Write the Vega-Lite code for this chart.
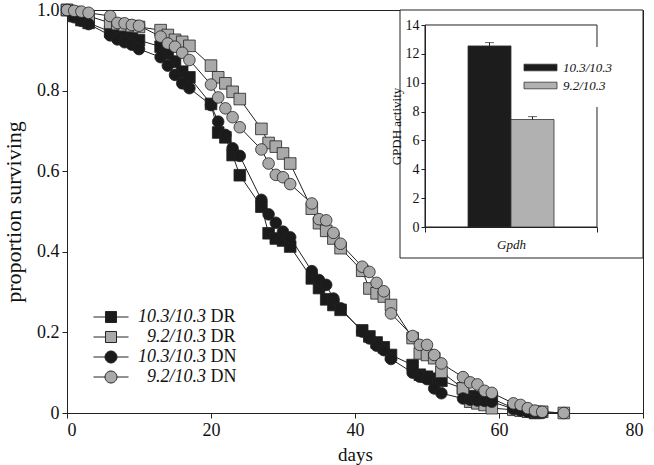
{
  "$schema": "https://vega.github.io/schema/vega-lite/v6.json",
  "width": 576,
  "height": 403,
  "autosize": {"type": "none"},
  "padding": {"left": 67, "top": 10, "right": 11, "bottom": 52},
  "background": "white",
  "config": {
    "font": "Liberation Serif",
    "view": {"stroke": "#222", "strokeWidth": 1},
    "axis": {"grid": false, "domainColor": "#222", "tickColor": "#222", "labelColor": "#111", "titleColor": "#111", "labelFont": "Liberation Serif", "titleFont": "Liberation Serif", "titleFontWeight": "normal"},
    "legend": {"labelFont": "Liberation Serif", "labelColor": "#111"}
  },
  "datasets": {
    "surv": [
      {"series":"10.3/10.3 DR","day":0,"surv":1},{"series":"10.3/10.3 DR","day":1,"surv":0.985},{"series":"10.3/10.3 DR","day":2,"surv":0.975},{"series":"10.3/10.3 DR","day":3,"surv":0.968},
      {"series":"10.3/10.3 DR","day":6,"surv":0.946},{"series":"10.3/10.3 DR","day":7,"surv":0.94},{"series":"10.3/10.3 DR","day":8,"surv":0.935},{"series":"10.3/10.3 DR","day":9,"surv":0.93},{"series":"10.3/10.3 DR","day":10,"surv":0.925},
      {"series":"10.3/10.3 DR","day":13,"surv":0.909},{"series":"10.3/10.3 DR","day":14,"surv":0.892},{"series":"10.3/10.3 DR","day":15,"surv":0.872},{"series":"10.3/10.3 DR","day":16,"surv":0.847},{"series":"10.3/10.3 DR","day":17,"surv":0.833},
      {"series":"10.3/10.3 DR","day":20,"surv":0.767},{"series":"10.3/10.3 DR","day":21,"surv":0.696},{"series":"10.3/10.3 DR","day":22,"surv":0.684},{"series":"10.3/10.3 DR","day":23,"surv":0.64},{"series":"10.3/10.3 DR","day":24,"surv":0.59},
      {"series":"10.3/10.3 DR","day":27,"surv":0.512},{"series":"10.3/10.3 DR","day":28,"surv":0.446},{"series":"10.3/10.3 DR","day":29,"surv":0.433},{"series":"10.3/10.3 DR","day":30,"surv":0.428},{"series":"10.3/10.3 DR","day":31,"surv":0.413},
      {"series":"10.3/10.3 DR","day":34,"surv":0.334},{"series":"10.3/10.3 DR","day":35,"surv":0.31},{"series":"10.3/10.3 DR","day":36,"surv":0.282},{"series":"10.3/10.3 DR","day":37,"surv":0.268},{"series":"10.3/10.3 DR","day":38,"surv":0.256},
      {"series":"10.3/10.3 DR","day":41,"surv":0.205},{"series":"10.3/10.3 DR","day":42,"surv":0.19},{"series":"10.3/10.3 DR","day":43,"surv":0.175},{"series":"10.3/10.3 DR","day":44,"surv":0.163},{"series":"10.3/10.3 DR","day":45,"surv":0.144},
      {"series":"10.3/10.3 DR","day":48,"surv":0.119},{"series":"10.3/10.3 DR","day":49,"surv":0.095},{"series":"10.3/10.3 DR","day":50,"surv":0.09},{"series":"10.3/10.3 DR","day":51,"surv":0.085},{"series":"10.3/10.3 DR","day":52,"surv":0.08},
      {"series":"10.3/10.3 DR","day":55,"surv":0.061},{"series":"10.3/10.3 DR","day":56,"surv":0.042},{"series":"10.3/10.3 DR","day":57,"surv":0.04},{"series":"10.3/10.3 DR","day":58,"surv":0.038},{"series":"10.3/10.3 DR","day":59,"surv":0.036},
      {"series":"10.3/10.3 DR","day":62,"surv":0.012},{"series":"10.3/10.3 DR","day":63,"surv":0.008},{"series":"10.3/10.3 DR","day":64,"surv":0.004},{"series":"10.3/10.3 DR","day":65,"surv":0},

      {"series":"9.2/10.3 DR","day":0,"surv":1},{"series":"9.2/10.3 DR","day":1,"surv":0.995},{"series":"9.2/10.3 DR","day":2,"surv":0.99},{"series":"9.2/10.3 DR","day":3,"surv":0.985},
      {"series":"9.2/10.3 DR","day":6,"surv":0.968},{"series":"9.2/10.3 DR","day":7,"surv":0.965},{"series":"9.2/10.3 DR","day":8,"surv":0.962},{"series":"9.2/10.3 DR","day":9,"surv":0.96},{"series":"9.2/10.3 DR","day":10,"surv":0.958},
      {"series":"9.2/10.3 DR","day":13,"surv":0.95},{"series":"9.2/10.3 DR","day":14,"surv":0.938},{"series":"9.2/10.3 DR","day":15,"surv":0.926},{"series":"9.2/10.3 DR","day":16,"surv":0.921},{"series":"9.2/10.3 DR","day":17,"surv":0.911},
      {"series":"9.2/10.3 DR","day":20,"surv":0.862},{"series":"9.2/10.3 DR","day":21,"surv":0.833},{"series":"9.2/10.3 DR","day":22,"surv":0.818},{"series":"9.2/10.3 DR","day":23,"surv":0.797},{"series":"9.2/10.3 DR","day":24,"surv":0.779},
      {"series":"9.2/10.3 DR","day":27,"surv":0.705},{"series":"9.2/10.3 DR","day":28,"surv":0.67},{"series":"9.2/10.3 DR","day":29,"surv":0.661},{"series":"9.2/10.3 DR","day":30,"surv":0.644},{"series":"9.2/10.3 DR","day":31,"surv":0.619},
      {"series":"9.2/10.3 DR","day":34,"surv":0.507},{"series":"9.2/10.3 DR","day":35,"surv":0.471},{"series":"9.2/10.3 DR","day":36,"surv":0.452},{"series":"9.2/10.3 DR","day":37,"surv":0.433},{"series":"9.2/10.3 DR","day":38,"surv":0.409},
      {"series":"9.2/10.3 DR","day":41,"surv":0.353},{"series":"9.2/10.3 DR","day":42,"surv":0.309},{"series":"9.2/10.3 DR","day":43,"surv":0.297},{"series":"9.2/10.3 DR","day":44,"surv":0.289},{"series":"9.2/10.3 DR","day":45,"surv":0.268},
      {"series":"9.2/10.3 DR","day":48,"surv":0.186},{"series":"9.2/10.3 DR","day":49,"surv":0.148},{"series":"9.2/10.3 DR","day":50,"surv":0.144},{"series":"9.2/10.3 DR","day":51,"surv":0.136},{"series":"9.2/10.3 DR","day":52,"surv":0.102},
      {"series":"9.2/10.3 DR","day":55,"surv":0.061},{"series":"9.2/10.3 DR","day":56,"surv":0.028},{"series":"9.2/10.3 DR","day":57,"surv":0.024},{"series":"9.2/10.3 DR","day":58,"surv":0.02},{"series":"9.2/10.3 DR","day":59,"surv":0.012},
      {"series":"9.2/10.3 DR","day":62,"surv":0.008},{"series":"9.2/10.3 DR","day":63,"surv":0.006},{"series":"9.2/10.3 DR","day":64,"surv":0.004},{"series":"9.2/10.3 DR","day":65,"surv":0.003},{"series":"9.2/10.3 DR","day":66,"surv":0.003},{"series":"9.2/10.3 DR","day":69,"surv":0},

      {"series":"10.3/10.3 DN","day":0,"surv":1},{"series":"10.3/10.3 DN","day":1,"surv":0.982},{"series":"10.3/10.3 DN","day":2,"surv":0.973},{"series":"10.3/10.3 DN","day":3,"surv":0.965},
      {"series":"10.3/10.3 DN","day":6,"surv":0.937},{"series":"10.3/10.3 DN","day":7,"surv":0.927},{"series":"10.3/10.3 DN","day":8,"surv":0.92},{"series":"10.3/10.3 DN","day":9,"surv":0.914},{"series":"10.3/10.3 DN","day":10,"surv":0.903},
      {"series":"10.3/10.3 DN","day":13,"surv":0.883},{"series":"10.3/10.3 DN","day":14,"surv":0.862},{"series":"10.3/10.3 DN","day":15,"surv":0.839},{"series":"10.3/10.3 DN","day":16,"surv":0.818},{"series":"10.3/10.3 DN","day":17,"surv":0.806},
      {"series":"10.3/10.3 DN","day":20,"surv":0.764},{"series":"10.3/10.3 DN","day":21,"surv":0.723},{"series":"10.3/10.3 DN","day":22,"surv":0.69},{"series":"10.3/10.3 DN","day":23,"surv":0.657},{"series":"10.3/10.3 DN","day":24,"surv":0.638},
      {"series":"10.3/10.3 DN","day":27,"surv":0.529},{"series":"10.3/10.3 DN","day":28,"surv":0.493},{"series":"10.3/10.3 DN","day":29,"surv":0.472},{"series":"10.3/10.3 DN","day":30,"surv":0.45},{"series":"10.3/10.3 DN","day":31,"surv":0.436},
      {"series":"10.3/10.3 DN","day":34,"surv":0.352},{"series":"10.3/10.3 DN","day":35,"surv":0.33},{"series":"10.3/10.3 DN","day":36,"surv":0.318},{"series":"10.3/10.3 DN","day":37,"surv":0.284},{"series":"10.3/10.3 DN","day":38,"surv":0.26},
      {"series":"10.3/10.3 DN","day":41,"surv":0.202},{"series":"10.3/10.3 DN","day":42,"surv":0.185},{"series":"10.3/10.3 DN","day":43,"surv":0.167},{"series":"10.3/10.3 DN","day":44,"surv":0.156},{"series":"10.3/10.3 DN","day":45,"surv":0.134},
      {"series":"10.3/10.3 DN","day":48,"surv":0.1},{"series":"10.3/10.3 DN","day":49,"surv":0.09},{"series":"10.3/10.3 DN","day":50,"surv":0.084},{"series":"10.3/10.3 DN","day":51,"surv":0.061},{"series":"10.3/10.3 DN","day":52,"surv":0.049},
      {"series":"10.3/10.3 DN","day":55,"surv":0.036},{"series":"10.3/10.3 DN","day":56,"surv":0.033},{"series":"10.3/10.3 DN","day":57,"surv":0.031},{"series":"10.3/10.3 DN","day":58,"surv":0.03},{"series":"10.3/10.3 DN","day":59,"surv":0.028},
      {"series":"10.3/10.3 DN","day":62,"surv":0.01},{"series":"10.3/10.3 DN","day":63,"surv":0.006},{"series":"10.3/10.3 DN","day":64,"surv":0.003},{"series":"10.3/10.3 DN","day":65,"surv":0.002},{"series":"10.3/10.3 DN","day":66,"surv":0},

      {"series":"9.2/10.3 DN","day":0,"surv":1},{"series":"9.2/10.3 DN","day":1,"surv":0.998},{"series":"9.2/10.3 DN","day":2,"surv":0.996},{"series":"9.2/10.3 DN","day":3,"surv":0.993},
      {"series":"9.2/10.3 DN","day":6,"surv":0.985},{"series":"9.2/10.3 DN","day":7,"surv":0.968},{"series":"9.2/10.3 DN","day":8,"surv":0.967},{"series":"9.2/10.3 DN","day":9,"surv":0.963},{"series":"9.2/10.3 DN","day":10,"surv":0.961},
      {"series":"9.2/10.3 DN","day":13,"surv":0.934},{"series":"9.2/10.3 DN","day":14,"surv":0.917},{"series":"9.2/10.3 DN","day":15,"surv":0.909},{"series":"9.2/10.3 DN","day":16,"surv":0.894},{"series":"9.2/10.3 DN","day":17,"surv":0.876},
      {"series":"9.2/10.3 DN","day":20,"surv":0.815},{"series":"9.2/10.3 DN","day":21,"surv":0.783},{"series":"9.2/10.3 DN","day":22,"surv":0.756},{"series":"9.2/10.3 DN","day":23,"surv":0.734},{"series":"9.2/10.3 DN","day":24,"surv":0.709},
      {"series":"9.2/10.3 DN","day":27,"surv":0.654},{"series":"9.2/10.3 DN","day":28,"surv":0.619},{"series":"9.2/10.3 DN","day":29,"surv":0.591},{"series":"9.2/10.3 DN","day":30,"surv":0.585},{"series":"9.2/10.3 DN","day":31,"surv":0.568},
      {"series":"9.2/10.3 DN","day":34,"surv":0.52},{"series":"9.2/10.3 DN","day":35,"surv":0.481},{"series":"9.2/10.3 DN","day":36,"surv":0.478},{"series":"9.2/10.3 DN","day":37,"surv":0.447},{"series":"9.2/10.3 DN","day":38,"surv":0.42},
      {"series":"9.2/10.3 DN","day":41,"surv":0.363},{"series":"9.2/10.3 DN","day":42,"surv":0.35},{"series":"9.2/10.3 DN","day":43,"surv":0.323},{"series":"9.2/10.3 DN","day":44,"surv":0.302},{"series":"9.2/10.3 DN","day":45,"surv":0.247},
      {"series":"9.2/10.3 DN","day":48,"surv":0.191},{"series":"9.2/10.3 DN","day":49,"surv":0.169},{"series":"9.2/10.3 DN","day":50,"surv":0.169},{"series":"9.2/10.3 DN","day":51,"surv":0.144},{"series":"9.2/10.3 DN","day":52,"surv":0.123},
      {"series":"9.2/10.3 DN","day":55,"surv":0.089},{"series":"9.2/10.3 DN","day":56,"surv":0.076},{"series":"9.2/10.3 DN","day":57,"surv":0.071},{"series":"9.2/10.3 DN","day":58,"surv":0.055},{"series":"9.2/10.3 DN","day":59,"surv":0.05},
      {"series":"9.2/10.3 DN","day":62,"surv":0.024},{"series":"9.2/10.3 DN","day":63,"surv":0.02},{"series":"9.2/10.3 DN","day":64,"surv":0.012},{"series":"9.2/10.3 DN","day":65,"surv":0.006},{"series":"9.2/10.3 DN","day":66,"surv":0.003},{"series":"9.2/10.3 DN","day":69,"surv":0}
    ],
    "gpdh": [
      {"gene":"Gpdh","genotype":"10.3/10.3","activity":12.55,"upper":12.78},
      {"gene":"Gpdh","genotype":"9.2/10.3","activity":7.45,"upper":7.65}
    ]
  },
  "layer": [
    {
      "layer": [
        {
          "data": {"name": "surv"},
          "mark": {"type": "line", "color": "#222", "strokeWidth": 1},
          "encoding": {
            "x": {"field": "day", "type": "quantitative", "scale": {"domain": [0, 80], "nice": false},
                  "axis": {"orient": "bottom", "title": "days", "values": [0, 20, 40, 60, 80], "tickSize": 5, "labelPadding": 3, "labelFontSize": 18, "titleFontSize": 19, "titlePadding": 6}},
            "y": {"field": "surv", "type": "quantitative", "scale": {"domain": [0, 1], "nice": false},
                  "axis": {"orient": "left", "title": "proportion surviving", "values": [0, 0.2, 0.4, 0.6, 0.8, 1], "labelExpr": "datum.value == 0 ? '0' : format(datum.value, '.1f')", "tickSize": 5, "labelPadding": 3, "labelFontSize": 18, "titleFontSize": 22, "titlePadding": 11}},
            "detail": {"field": "series"}
          }
        },
        {
          "data": {"name": "surv"},
          "mark": {"type": "point", "filled": true, "size": 135, "stroke": "#222", "strokeWidth": 0.8, "opacity": 1},
          "encoding": {
            "x": {"field": "day", "type": "quantitative"},
            "y": {"field": "surv", "type": "quantitative"},
            "shape": {"field": "series", "type": "nominal", "legend": null,
                      "scale": {"domain": ["10.3/10.3 DR", "9.2/10.3 DR", "10.3/10.3 DN", "9.2/10.3 DN"], "range": ["square", "square", "circle", "circle"]}},
            "fill": {"field": "series", "type": "nominal", "legend": null,
                     "scale": {"domain": ["10.3/10.3 DR", "9.2/10.3 DR", "10.3/10.3 DN", "9.2/10.3 DN"], "range": ["#1b1b1b", "#a9a9a9", "#1b1b1b", "#a9a9a9"]}}
          }
        },
        {
          "data": {"name": "surv"},
          "transform": [{"filter": "datum.day == 0"}],
          "mark": {"type": "point", "filled": true, "opacity": 0, "stroke": "#222", "strokeWidth": 0.8},
          "encoding": {
            "x": {"field": "day", "type": "quantitative"},
            "y": {"field": "surv", "type": "quantitative"},
            "shape": {"field": "series", "type": "nominal",
                      "scale": {"domain": ["10.3/10.3 DR", "9.2/10.3 DR", "10.3/10.3 DN", "9.2/10.3 DN"],
                                "range": ["M-2.92,0H-0.92M0.92,0H2.92M-0.92,-0.92H0.92V0.92H-0.92Z", "M-2.92,0H-0.92M0.92,0H2.92M-0.92,-0.92H0.92V0.92H-0.92Z", "M-2.92,0H-1M1,0H2.92M1,0A1,1,0,1,1,-1,0A1,1,0,1,1,1,0Z", "M-2.92,0H-1M1,0H2.92M1,0A1,1,0,1,1,-1,0A1,1,0,1,1,1,0Z"]},
                      "legend": {"orient": "none", "legendX": 35, "legendY": 298, "title": null, "padding": 0, "symbolSize": 144, "symbolOpacity": 1, "symbolStrokeColor": "#222", "symbolStrokeWidth": 1, "labelFontSize": 18, "labelFontStyle": "italic", "labelAlign": "right", "labelOffset": 86, "rowPadding": 2,
                                 "labelExpr": "slice(datum.label, 0, -3)",
                                 "encode": {"symbols": {"update": {"stroke": {"value": "#222"}, "strokeWidth": {"value": 1}, "opacity": {"value": 1}}}}}},
            "fill": {"field": "series", "type": "nominal",
                     "scale": {"domain": ["10.3/10.3 DR", "9.2/10.3 DR", "10.3/10.3 DN", "9.2/10.3 DN"], "range": ["#1b1b1b", "#a9a9a9", "#1b1b1b", "#a9a9a9"]},
                     "legend": {"orient": "none", "legendX": 35, "legendY": 298, "title": null, "padding": 0, "symbolSize": 144, "symbolOpacity": 1, "symbolStrokeColor": "#222", "symbolStrokeWidth": 1, "labelFontSize": 18, "labelFontStyle": "italic", "labelAlign": "right", "labelOffset": 86, "rowPadding": 2,
                                "labelExpr": "slice(datum.label, 0, -3)",
                                "encode": {"symbols": {"update": {"stroke": {"value": "#222"}, "strokeWidth": {"value": 1}, "opacity": {"value": 1}}}}}}
          }
        },
        {
          "data": {"name": "surv"},
          "transform": [{"filter": "datum.day == 0"}],
          "mark": {"type": "point", "opacity": 0},
          "encoding": {
            "x": {"field": "day", "type": "quantitative"},
            "y": {"field": "surv", "type": "quantitative"},
            "stroke": {"field": "series", "type": "nominal", "sort": null,
                       "scale": {"range": ["#222", "#222", "#222", "#222"]},
                       "legend": {"orient": "none", "legendX": 35, "legendY": 298, "title": null, "padding": 0, "symbolSize": 144, "symbolOpacity": 0, "symbolType": "M-2.92,0H-0.92M0.92,0H2.92M-0.92,-0.92H0.92V0.92H-0.92Z", "labelFontSize": 18, "labelFontStyle": "normal", "labelAlign": "left", "labelOffset": 90.5, "rowPadding": 2,
                                  "labelExpr": "slice(datum.label, -2)",
                                  "encode": {"symbols": {"update": {"opacity": {"value": 0}}}}}}
          }
        },
        {
          "data": {"values": [{}]},
          "mark": {"type": "rect", "fill": "white", "stroke": "#222", "strokeWidth": 1},
          "encoding": {
            "x": {"datum": 46.25, "type": "quantitative"},
            "x2": {"datum": 80},
            "y": {"datum": 0.3846, "type": "quantitative"},
            "y2": {"datum": 1}
          }
        },
        {
          "data": {"values": [{}]},
          "mark": {"type": "rect", "fill": null, "fillOpacity": 0, "stroke": "#222", "strokeWidth": 1},
          "encoding": {
            "x": {"datum": 49.72, "type": "quantitative"},
            "x2": {"datum": 73.61},
            "y": {"datum": 0.4615, "type": "quantitative"},
            "y2": {"datum": 0.9628}
          }
        }
      ],
      "resolve": {"scale": {"shape": "independent", "fill": "independent"}}
    },
    {
      "data": {"name": "gpdh"},
      "layer": [
        {
          "mark": {"type": "bar", "stroke": "#333", "strokeWidth": 0.8},
          "encoding": {
            "x": {"field": "gene", "type": "nominal", "scale": {"type": "band", "range": [358, 530], "paddingInner": 0, "paddingOuter": 0},
                  "axis": {"orient": "bottom", "offset": -186, "zindex": 2, "title": null, "labelAngle": 0, "tickBand": "extent", "tickSize": 5, "labelFontSize": 13, "labelFontStyle": "italic", "labelPadding": 6}},
            "xOffset": {"field": "genotype", "type": "nominal", "scale": {"domain": ["10.3/10.3", "9.2/10.3"], "paddingInner": 0, "paddingOuter": 1.42}},
            "y": {"field": "activity", "type": "quantitative", "scale": {"domain": [0, 14], "range": [217, 15], "nice": false},
                  "axis": {"orient": "left", "offset": -358, "zindex": 2, "title": "GPDH activity", "values": [0, 2, 4, 6, 8, 10, 12, 14], "tickSize": 4, "labelPadding": 2, "labelFontSize": 14, "titleFontSize": 13, "titlePadding": 2}},
            "fill": {"field": "genotype", "type": "nominal",
                     "scale": {"domain": ["10.3/10.3", "9.2/10.3"], "range": ["#1c1c1c", "#b1b1b1"]},
                     "legend": {"orient": "none", "legendX": 453, "legendY": 37, "title": null, "padding": 14, "fillColor": "white", "symbolType": "M-2.75,-0.55H2.75V0.55H-2.75Z", "symbolSize": 144, "symbolStrokeColor": "#333", "symbolStrokeWidth": 0.8, "labelFontSize": 13, "labelFontStyle": "italic", "labelOffset": 16, "rowPadding": 4,
                                "encode": {"symbols": {"update": {"stroke": {"value": "#333"}, "strokeWidth": {"value": 0.8}}}}}}
          }
        },
        {
          "mark": {"type": "rule", "color": "#222", "strokeWidth": 1},
          "encoding": {
            "x": {"field": "gene", "type": "nominal"},
            "xOffset": {"field": "genotype", "type": "nominal"},
            "y": {"field": "activity", "type": "quantitative"},
            "y2": {"field": "upper"}
          }
        },
        {
          "mark": {"type": "tick", "orient": "horizontal", "color": "#222", "size": 9, "thickness": 1},
          "encoding": {
            "x": {"field": "gene", "type": "nominal"},
            "xOffset": {"field": "genotype", "type": "nominal"},
            "y": {"field": "upper", "type": "quantitative"}
          }
        }
      ]
    }
  ],
  "resolve": {"scale": {"x": "independent", "y": "independent", "fill": "independent", "shape": "independent", "stroke": "independent"}, "axis": {"x": "independent", "y": "independent"}, "legend": {"fill": "independent", "shape": "independent", "stroke": "independent"}}
}
